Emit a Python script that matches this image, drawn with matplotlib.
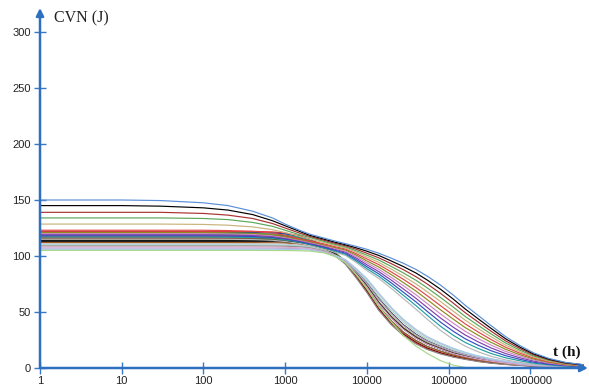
import matplotlib
matplotlib.use("Agg")
import matplotlib.pyplot as plt
from matplotlib.ticker import FixedLocator, NullLocator

# time points (h)
T = [1, 10, 30, 100, 200, 400, 700, 1000, 1500, 2000, 3000, 4000,
     5500, 7500, 10000, 14000, 20000, 28000, 40000, 55000, 80000, 115000,
     160000, 230000, 330000, 500000, 750000, 1.1e6, 1.7e6, 2.7e6, 4.5e6]

# "fan" curves (late drop)
F1 = [150, 150, 149.5, 147.5, 145, 140, 134, 128.5, 123, 119.5, 116, 113.5,
      111, 108.5, 106, 102.5, 98, 93.5, 88, 82, 74, 65, 56, 47, 38, 28, 20, 13.5, 8.5, 5, 3]
F2 = [145, 145, 144.5, 143, 141, 137, 131.5, 127, 122, 118.5, 115, 112.5,
      110, 107.2, 104.3, 100.5, 95.5, 90.6, 84.8, 78.5, 70.3, 61.4, 52.7, 44, 35.5, 26.1, 18.6, 12.6, 7.9, 4.7, 2.8]
F3 = [139, 139, 139, 138, 136.5, 133.5, 129, 125, 120.5, 117.5, 114, 111.5,
      109.1, 105.9, 102.5, 98.4, 93.1, 87.8, 81.5, 75, 66.6, 57.8, 49.4, 41.1, 33, 24.2, 17.3, 11.7, 7.4, 4.3, 2.6]
F4 = [134, 134, 134, 133.5, 132.5, 130, 126.5, 123, 119, 116.5, 113, 110.5,
      108.1, 104.5, 100.8, 96.4, 90.6, 84.9, 78.3, 71.5, 62.9, 54.2, 46, 38.1, 30.5, 22.3, 15.9, 10.7, 6.8, 4, 2.4]
F5 = [128.5, 128.5, 128.5, 128.2, 127.5, 126, 123.5, 121, 117.5, 115, 112, 109.5,
      107.2, 103.2, 99.1, 94.3, 88.2, 82, 75.1, 68, 59.3, 50.6, 42.7, 35.2, 28, 20.4, 14.5, 9.8, 6.2, 3.7, 2.2]
F6 = [123, 123, 123, 123, 122.7, 122, 120.5, 118.5, 115.5, 113.5, 110.8, 108.5,
      106.2, 101.9, 97.4, 92.3, 85.7, 79.2, 71.8, 64.5, 55.6, 47, 39.4, 32.2, 25.5, 18.5, 13.2, 8.9, 5.6, 3.4, 2]
F7 = [121, 121, 121, 121, 120.8, 120.3, 119, 117.3, 114.8, 112.8, 110, 107.7,
      105.3, 100.6, 95.6, 90.2, 83.3, 76.3, 68.7, 61, 51.9, 43.5, 36.1, 29.3, 23, 16.7, 11.8, 8, 5.1, 3, 1.9]
F8 = [120, 120, 120, 120, 119.8, 119.3, 118.2, 116.6, 114.2, 112.2, 109.3, 107,
      104.3, 99.3, 93.9, 88.2, 80.8, 73.5, 65.4, 57.5, 48.2, 39.9, 32.8, 26.3, 20.5, 14.8, 10.5, 7.1, 4.5, 2.7, 1.7]
F9 = [119, 119, 119, 119, 118.8, 118.4, 117.4, 115.9, 113.6, 111.6, 108.6, 106.2,
      103.4, 98, 92.2, 86.1, 78.4, 70.6, 62.2, 54, 44.6, 36.3, 29.5, 23.4, 18, 12.9, 9.1, 6.2, 3.9, 2.4, 1.5]
F10 = [118, 118, 118, 118, 117.8, 117.4, 116.6, 115.2, 113, 111, 107.9, 105.4,
       102.4, 96.6, 90.5, 84.1, 75.9, 67.7, 59, 50.5, 40.9, 32.7, 26.1, 20.4, 15.5, 11, 7.7, 5.2, 3.3, 2.1, 1.3]
F11 = [117, 117, 117, 117, 116.8, 116.5, 115.8, 114.5, 112.4, 110.4, 107.2, 104.6,
       101.5, 95.3, 88.7, 82, 73.5, 64.9, 55.7, 47, 37.2, 29.1, 22.8, 17.5, 13, 9.1, 6.4, 4.3, 2.8, 1.7, 1.1]
F12 = [115, 115, 115, 115, 114.9, 114.6, 114, 113, 111.2, 109.4, 106.2, 103.5,
       100.5, 94, 87, 80, 71, 62, 52.5, 43.5, 33.5, 25.5, 19.5, 14.5, 10.5, 7.2, 5, 3.4, 2.2, 1.4, 0.9]

# "bundle" curves (early drop)
B1 = [122, 122, 122, 122, 122, 122, 121.5, 120.5, 118, 115, 109.5, 104,
      93, 80.5, 68, 52, 39, 29.5, 22, 17, 13, 10, 8, 6, 4.5, 3.3, 2.4, 1.7, 1.1, 0.7, 0.4]
B2 = [121, 121, 121, 121, 121, 121, 120.6, 119.7, 117.3, 114.4, 109.1, 103.8,
      94.5, 84, 73, 58, 45, 35, 27, 21.5, 17, 13, 10.5, 8, 6.2, 4.5, 3.2, 2.3, 1.5, 1, 0.6]
B3 = [120, 120, 120, 120, 120, 120, 119.7, 118.8, 116.6, 113.8, 108.7, 103.5,
      93.8, 82.3, 70.5, 55, 42, 32, 24.5, 19.2, 15, 11.5, 9.2, 7, 5.4, 4, 2.8, 2, 1.3, 0.8, 0.5]
B4 = [119, 119, 119, 119, 119, 119, 118.7, 117.9, 115.8, 113.2, 108.3, 103.2,
      95.5, 86, 76, 62, 49, 38.5, 30, 24, 19, 15, 12, 9.3, 7.2, 5.2, 3.7, 2.7, 1.8, 1.2, 0.7]
B5 = [118, 118, 118, 118, 118, 118, 117.8, 117, 115.1, 112.6, 107.9, 103,
      94.5, 84, 73, 58, 45, 35, 27, 21.5, 17, 13, 10.5, 8, 6.2, 4.5, 3.2, 2.3, 1.5, 1, 0.6]
B6 = [117, 117, 117, 117, 117, 117, 116.8, 116.1, 114.4, 112, 107.6, 102.7,
      95.5, 86, 76, 62, 49, 38.5, 30, 24, 19, 15, 12, 9.3, 7.2, 5.2, 3.7, 2.7, 1.8, 1.2, 0.7]
B7 = [116, 116, 116, 116, 116, 116, 115.8, 115.2, 113.6, 111.4, 107.2, 102.4,
      93.5, 81.5, 69, 53, 40, 30.5, 23, 17.8, 13.6, 10.5, 8.4, 6.3, 4.8, 3.5, 2.5, 1.8, 1.2, 0.7, 0.4]
B8 = [115, 115, 115, 115, 115, 115, 114.8, 114.3, 112.8, 111, 106.9, 102.2,
      94.8, 84.8, 74, 59, 46, 36, 28, 22.3, 17.6, 13.5, 10.8, 8.3, 6.4, 4.6, 3.3, 2.4, 1.6, 1, 0.6]
B9 = [114, 114, 114, 114, 114, 114, 113.8, 113.3, 112, 110.5, 106.5, 102,
      94.5, 84, 73, 58, 45, 35, 27, 21.5, 17, 13, 10.5, 8, 6.2, 4.5, 3.2, 2.3, 1.5, 1, 0.6]
B10 = [113, 113, 113, 113, 113, 113, 112.8, 112.4, 111.3, 109.9, 106.1, 101.7,
       95.5, 86, 76, 62, 49, 38.5, 30, 24, 19, 15, 12, 9.3, 7.2, 5.2, 3.7, 2.7, 1.8, 1.2, 0.7]
B11 = [112, 112, 112, 112, 112, 112, 111.8, 111.5, 110.5, 109.2, 105.7, 101.5,
       93.8, 82.3, 70.5, 55, 42, 32, 24.5, 19.2, 15, 11.5, 9.2, 7, 5.4, 4, 2.8, 2, 1.3, 0.8, 0.5]
B12 = [111, 111, 111, 111, 111, 111, 110.9, 110.6, 109.8, 108.6, 105.3, 101.2,
       96.5, 88, 79, 66, 53, 42.5, 33.5, 27, 21.5, 17, 13.5, 10.5, 8, 5.8, 4.2, 3, 2, 1.3, 0.8]
B13 = [110, 110, 110, 110, 110, 110, 109.9, 109.6, 109, 108, 104.9, 101,
       96, 87, 77.5, 64, 51, 41, 32, 25.5, 20.3, 16, 12.8, 10, 7.6, 5.5, 4, 2.9, 1.9, 1.2, 0.7]
B14 = [109, 109, 109, 109, 109, 109, 108.9, 108.7, 108.2, 107.3, 104.5, 100.7,
       92.5, 80, 67.5, 51.5, 38.5, 29, 21.5, 16.5, 12.5, 9.7, 7.7, 5.8, 4.3, 3.1, 2.3, 1.6, 1, 0.6, 0.4]
B15 = [108, 108, 108, 108, 108, 108, 107.9, 107.8, 107.4, 106.7, 104.1, 100.5,
       94.2, 83.5, 72.5, 57.5, 44.5, 34.5, 26.6, 21.2, 16.8, 12.8, 10.3, 7.9, 6.1, 4.4, 3.1, 2.2, 1.4, 0.9, 0.5]
B16 = [107, 107, 107, 107, 107, 107, 106.9, 106.8, 106.5, 106, 103.7, 100.2,
       95.2, 85.6, 75.5, 61.5, 48.5, 38, 29.6, 23.7, 18.8, 14.8, 11.8, 9.1, 7, 5.1, 3.6, 2.6, 1.7, 1.1, 0.6]
B17 = [106, 106, 106, 106, 106, 106, 106, 105.9, 105.7, 105.3, 103.2, 100,
       96.8, 88.5, 80, 67, 54, 43.5, 34.5, 28, 22.3, 17.6, 14, 10.8, 8.3, 6, 4.3, 3.1, 2.1, 1.4, 0.8]
B18 = [105, 105, 105, 105, 105, 105, 104.9, 104.9, 104.7, 104.4, 102.8, 99.7,
       94, 83, 71, 55, 41, 29, 19.5, 13, 6.5, 2.5, 0.5, 0, 0, 0, 0, 0, 0, 0, 0]

fan = [F1, F2, F3, F4, F5, F6, F7, F8, F9, F10, F11, F12]
fan_colors = ["#5b8fd8", "#000000", "#a83232", "#5aa85a", "#c8b37a", "#e04848",
              "#8c8c20", "#d088c8", "#8040b0", "#3050c0", "#20a0a0", "#b8b8b8"]
bundle = [B1, B2, B3, B4, B5, B6, B7, B8, B9, B10, B11, B12, B13, B14, B15, B16, B17, B18]
bundle_colors = ["#e83030", "#203c9c", "#20a0a0", "#207a30", "#7030a0", "#a0a020",
                 "#800000", "#5a5a20", "#000000", "#202020", "#a05a20", "#c4c4c4",
                 "#a8d4d4", "#8a8a8a", "#e0a8c8", "#c0a8d8", "#a8c8e8", "#a8d888"]

y_ticks = [0, 50, 100, 150, 200, 250, 300]
x_ticks = [1, 10, 100, 1000, 10000, 100000, 1000000]
x_labels = ["1", "10", "100", "1000", "10000", "100000", "1000000"]

axis_blue = "#2f6fc0"
tick_blue = "#3a78c8"

fig = plt.figure(figsize=(5.89, 3.86), dpi=100)
ax = fig.add_axes([40 / 589, 18 / 386, 548 / 589, 360 / 386])
ax.set_xscale("log")
ax.set_xlim(1, 10 ** (548 / 81.7))
ax.set_ylim(0, 360 / 1.12)

for vals, c in zip(bundle, bundle_colors):
    ax.plot(T, vals, color=c, lw=0.85, solid_capstyle="butt")
for vals, c in zip(fan[::-1], fan_colors[::-1]):
    ax.plot(T, vals, color=c, lw=0.85, solid_capstyle="butt")

for s in ax.spines.values():
    s.set_visible(False)

arrow_kw = dict(arrowstyle="-|>", color=axis_blue, lw=1.8, mutation_scale=11,
                shrinkA=0, shrinkB=0)
ax.annotate("", xy=(0, 1), xytext=(0, 0), xycoords="axes fraction",
            arrowprops=arrow_kw, annotation_clip=False)
ax.annotate("", xy=(1, 0), xytext=(0, 0), xycoords="axes fraction",
            arrowprops=arrow_kw, annotation_clip=False)

ax.xaxis.set_major_locator(FixedLocator(x_ticks))
ax.xaxis.set_minor_locator(NullLocator())
ax.set_xticklabels(x_labels)
ax.set_yticks(y_ticks)
ax.set_yticklabels([str(v) for v in y_ticks])
ax.tick_params(axis="both", direction="inout", color=tick_blue, width=1,
               labelsize=8, labelcolor="#222222")
ax.tick_params(axis="y", length=9, pad=2)
ax.tick_params(axis="x", length=8, pad=2)
for lab in ax.get_xticklabels() + ax.get_yticklabels():
    lab.set_family("Liberation Sans")

fig.text(54 / 589, 1 - 18 / 386, "CVN (J)", family="Liberation Serif",
         fontsize=11.5, va="center", ha="left", color="#222222")
fig.text(553 / 589, 1 - 352 / 386, "t (h)", family="Liberation Serif",
         fontsize=11, fontweight="bold", va="center", ha="left", color="#111111")

fig.savefig("out.png", dpi=100)
